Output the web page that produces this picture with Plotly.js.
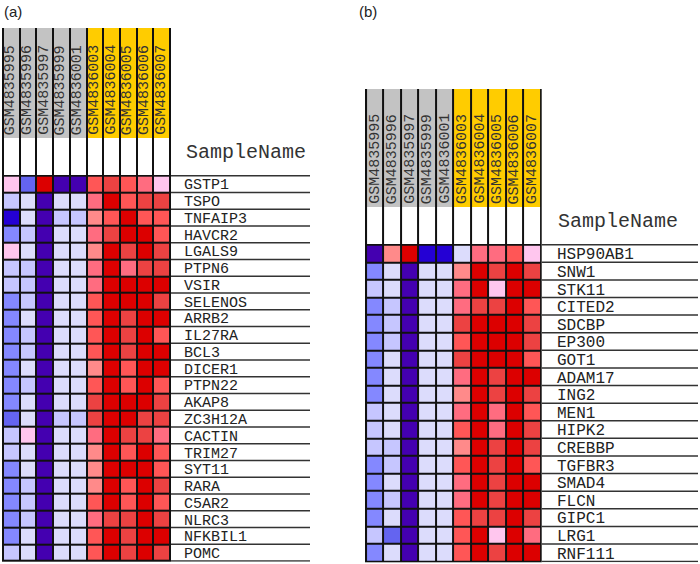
<!DOCTYPE html>
<html>
<head>
<meta charset="utf-8">
<script src="https://cdn.plot.ly/plotly-3.0.1.min.js"></script>
<style>html,body{margin:0;padding:0;background:#fff;}#chart{width:700px;height:564px;}</style>
</head>
<body>
<div id="chart"></div>
<script>
// ---- data ----
const samples = ['GSM4835995','GSM4835996','GSM4835997','GSM4835999','GSM4836001',
                 'GSM4836003','GSM4836004','GSM4836005','GSM4836006','GSM4836007'];
const sampleGroup = [0,0,0,0,0,1,1,1,1,1];   // 0 = grey group, 1 = gold group

const genesA = ['GSTP1','TSPO','TNFAIP3','HAVCR2','LGALS9','PTPN6','VSIR','SELENOS','ARRB2',
                'IL27RA','BCL3','DICER1','PTPN22','AKAP8','ZC3H12A','CACTIN','TRIM27','SYT11',
                'RARA','C5AR2','NLRC3','NFKBIL1','POMC'];
// expression level (discrete, -6 = lowest/blue ... 5 = highest/red)
const levelsA = [
  [ 0,-4, 5,-6,-6, 3, 4, 3, 2, 0],
  [-2,-1,-6,-1,-1, 2, 5, 3, 4, 4],
  [-5,-1,-6,-2,-2, 1, 3, 5, 3, 3],
  [-3,-2,-6,-1,-1, 2, 4, 5, 5, 3],
  [ 0,-1,-6,-1,-1, 1, 5, 4, 5, 4],
  [-2,-2,-6,-1,-1, 2, 5, 2, 4, 4],
  [-2,-2,-6,-1,-1, 2, 5, 5, 5, 5],
  [-3,-2,-6,-1,-1, 3, 5, 5, 5, 4],
  [-3,-1,-6,-1,-1, 3, 5, 4, 5, 5],
  [-3,-2,-6,-1,-1, 3, 5, 4, 5, 3],
  [-3,-2,-6,-1,-1, 3, 5, 4, 5, 5],
  [-3,-1,-6,-1,-1, 1, 5, 3, 5, 5],
  [-3,-2,-6,-1,-1, 3, 5, 3, 5, 3],
  [-3,-1,-6,-1,-1, 4, 5, 5, 5, 4],
  [-4,-1,-6,-2,-2, 4, 5, 5, 4, 4],
  [-2, 0,-6,-1,-1, 2, 5, 4, 4, 2],
  [-2,-1,-6,-1,-1, 1, 5, 3, 5, 3],
  [-3,-1,-6,-1,-1, 1, 5, 5, 5, 3],
  [-3,-2,-6,-1,-1, 1, 5, 3, 5, 4],
  [-3,-2,-6,-1,-1, 3, 5, 3, 5, 3],
  [-3,-2,-6,-1,-1, 2, 4, 4, 5, 4],
  [-3,-1,-6,-1,-1, 3, 5, 4, 5, 5],
  [-2,-1,-6,-1,-1, 3, 5, 4, 5, 4]
];

const genesB = ['HSP90AB1','SNW1','STK11','CITED2','SDCBP','EP300','GOT1','ADAM17','ING2',
                'MEN1','HIPK2','CREBBP','TGFBR3','SMAD4','FLCN','GIPC1','LRG1','RNF111'];
const levelsB = [
  [-6, 1, 5,-5,-5,-1, 2, 2, 3, 0],
  [-3,-1,-6,-1,-1, 1, 5, 4, 5, 4],
  [-2,-1,-6,-1,-1, 2, 5, 0, 5, 5],
  [-3,-2,-6,-1,-1, 2, 4, 4, 5, 3],
  [-3,-2,-6,-1,-1, 4, 5, 5, 5, 4],
  [-3,-2,-6,-1,-1, 3, 5, 5, 5, 4],
  [-3,-1,-6,-1,-1, 4, 5, 5, 5, 3],
  [-3,-1,-6,-1,-1, 2, 5, 4, 5, 5],
  [-3,-1,-6,-1,-1, 1, 5, 4, 5, 4],
  [-2,-1,-6,-1,-1, 2, 5, 2, 5, 3],
  [-2,-1,-6,-1,-1, 3, 5, 2, 5, 4],
  [-2,-2,-6,-1,-1, 1, 5, 4, 5, 4],
  [-3,-2,-6,-1,-1, 3, 5, 4, 5, 3],
  [-3,-1,-6,-1,-1, 2, 5, 4, 5, 5],
  [-3,-2,-6,-1,-1, 2, 5, 4, 5, 5],
  [-3,-1,-6,-1,-1, 3, 4, 4, 5, 4],
  [-2,-4,-6,-1,-1, 3, 5, 0, 5, 2],
  [-3,-1,-6,-1,-1, 3, 5, 4, 5, 5]
];

const panelLabels = ['(a)', '(b)'];
const headerTitle = 'SampleName';

// ---- styles ----
const levelColors = ['#4400b0','#2400d4','#6464f0','#8488ff','#c6c6ff','#dcdcfc',
                     '#ffc6ee','#ff8a8a','#ff6c80','#ff5656','#ec4242','#dc0000'];
const levelMin = -6;
const groupColors = ['#c3c3c3', '#ffcc00'];
const W = 700, H = 564;
const py = p => 1 - p / H;
const px = p => p / W;

function discreteScale(colors) {
  const n = colors.length, s = [];
  colors.forEach((c, i) => { s.push([i / n, c]); s.push([(i + 1) / n, c]); });
  return s;
}
const heatScale = discreteScale(levelColors);
const groupScale = discreteScale(groupColors);

const panels = [
  {genes: genesA, z: levelsA, x0: 2, x1: 171, band: [28, 138], white: [138, 175], body: [175, 561.7],
   lineEnd: 310, labelX: 182, titleX: 184, label: panelLabels[0], labelPos: 2,
   geneSize: 15, geneShift: -4, headSize: 15},
  {genes: genesB, z: levelsB, x0: 365, x1: 541.7, band: [89, 207], white: [207, 244], body: [244, 562.3],
   lineEnd: 698, labelX: 555, titleX: 556, label: panelLabels[1], labelPos: 357,
   geneSize: 16, geneShift: -4, headSize: 15}
];

const traces = [], annotations = [], shapes = [];
const layout = {
  width: W, height: H, margin: {l: 0, r: 0, t: 0, b: 0},
  paper_bgcolor: '#ffffff', plot_bgcolor: '#111111', showlegend: false
};
const colIdx = samples.map((s, i) => i);

panels.forEach((p, k) => {
  const xa = k === 0 ? 'x' : 'x2';
  const xName = k === 0 ? 'xaxis' : 'xaxis2';
  const yb = 'y' + (k * 3 + 1), yw = 'y' + (k * 3 + 2), yg = 'y' + (k * 3 + 3);
  const ybN = 'yaxis' + (k * 3 + 1 === 1 ? '' : k * 3 + 1);
  const ywN = 'yaxis' + (k * 3 + 2), ygN = 'yaxis' + (k * 3 + 3);
  const n = p.genes.length;
  layout[xName] = {domain: [px(p.x0), px(p.x1)], range: [-0.56, samples.length - 0.44],
                   visible: false, fixedrange: true, anchor: yb};
  layout[ybN] = {domain: [py(p.body[1]), py(p.body[0])], range: [n - 0.46, -0.54],
                 visible: false, anchor: xa};
  layout[ywN] = {domain: [py(p.white[1]), py(p.white[0])], range: [-0.5, 0.5], visible: false, anchor: xa};
  layout[ygN] = {domain: [py(p.band[1]), py(p.band[0])], range: [-0.5, 0.5], visible: false, anchor: xa};

  traces.push({type: 'heatmap', x: colIdx, y: p.genes.map((g, i) => i), z: p.z,
               colorscale: heatScale, zmin: levelMin - 0.5, zmax: levelMin + levelColors.length - 0.5,
               showscale: false, xgap: 2, ygap: 2, xaxis: xa, yaxis: yb, hoverinfo: 'skip'});
  traces.push({type: 'heatmap', x: colIdx, y: [0], z: [samples.map(() => 0)],
               colorscale: [[0, '#ffffff'], [1, '#ffffff']], showscale: false,
               xgap: 2, ygap: 0, xaxis: xa, yaxis: yw, hoverinfo: 'skip'});
  traces.push({type: 'heatmap', x: colIdx, y: [0], z: [sampleGroup],
               colorscale: groupScale, zmin: -0.5, zmax: 1.5, showscale: false,
               xgap: 2, ygap: 0, xaxis: xa, yaxis: yg, hoverinfo: 'skip'});

  samples.forEach((s, i) => {
    annotations.push({text: s, xref: xa, yref: yg, x: i, y: -0.5, xanchor: 'center', yanchor: 'bottom',
                      textangle: -90, showarrow: false, yshift: 1,
                      font: {family: 'Liberation Mono, monospace', size: p.headSize, color: '#333333'}});
  });
  p.genes.forEach((g, i) => {
    annotations.push({text: g, xref: 'paper', yref: yb, x: px(p.labelX), y: i + 0.5,
                      xanchor: 'left', yanchor: 'bottom', showarrow: false, yshift: p.geneShift,
                      font: {family: 'Liberation Mono, monospace', size: p.geneSize, color: '#222222'}});
  });
  for (let i = 0; i <= n; i++) {
    shapes.push({type: 'line', xref: 'paper', yref: yb, x0: px(p.x1), x1: px(p.lineEnd),
                 y0: i - 0.5, y1: i - 0.5, line: {color: '#333333', width: 1.5}});
  }
  annotations.push({text: headerTitle, xref: 'paper', yref: yw, x: px(p.titleX), y: 0,
                    xanchor: 'left', yanchor: 'middle', showarrow: false, yshift: 4,
                    font: {family: 'Liberation Mono, monospace', size: 20, color: '#333333'}});
  annotations.push({text: p.label, xref: 'paper', yref: 'paper', x: px(p.labelPos), y: py(1),
                    xanchor: 'left', yanchor: 'top', showarrow: false,
                    font: {family: 'Liberation Sans, Arial, sans-serif', size: 15, color: '#222222'}});
});

layout.annotations = annotations;
layout.shapes = shapes;

Plotly.newPlot('chart', traces, layout, {displayModeBar: false, staticPlot: true});
</script>
</body>
</html>
